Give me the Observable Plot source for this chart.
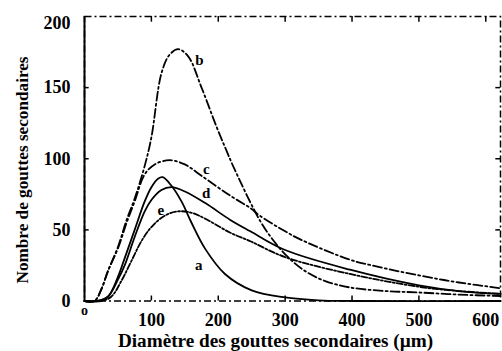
<!DOCTYPE html>
<html><head><meta charset="utf-8">
<script src="https://cdn.jsdelivr.net/npm/d3@7"></script>
<script src="https://cdn.jsdelivr.net/npm/@observablehq/plot@0.6"></script>
<style>
body{margin:0;background:#fff;}
svg, svg text{font-family:"Liberation Serif","DejaVu Serif",serif !important;}
</style></head><body><div id="chart"></div>
<script>
// Diamètre (µm) and counts for each curve
const xA = [0, 20, 35, 50, 60, 75, 90, 100, 110, 117, 130, 145, 160, 180, 210, 250, 300, 350, 400, 622];
const yA = [0, 0, 3, 17, 30, 50, 70, 80, 86, 87, 81, 70, 55, 37, 19, 7.5, 2.5, 0.5, 0, 0];
const xB = [0, 15, 25, 35, 50, 63, 75, 90, 100, 115, 127, 140, 155, 175, 197, 212, 224, 263, 285, 304, 330, 360, 397, 450, 500, 560, 622];
const yB = [0, 0, 8, 21, 38, 57, 72, 95, 115, 160, 173, 177, 172, 150, 123, 106, 93, 56, 41, 31, 21, 14, 9.5, 7, 6, 4.5, 3.5];
const xC = [0, 15, 25, 35, 50, 63, 75, 90, 105, 127, 150, 175, 218, 249, 262, 300, 324, 397, 430, 500, 560, 622];
const yC = [0, 0, 8, 21, 37, 55, 70, 89, 96, 99, 96, 88, 74, 65, 60, 49, 43, 29, 25, 18, 13, 9];
const xD = [0, 20, 35, 50, 60, 75, 90, 100, 115, 130, 150, 180, 218, 248, 299, 397, 500, 560, 622];
const yD = [0, 0, 3, 15, 25, 45, 63, 71, 78, 80, 77, 69, 57, 49, 36, 22, 11, 7, 5];
const xE = [0, 25, 40, 55, 70, 85, 100, 120, 140, 160, 180, 218, 248, 299, 397, 500, 560, 622];
const yE = [0, 0, 3, 14, 28, 42, 52, 60, 63, 62, 58, 48, 42, 31, 19, 10, 7, 5];

const curveNames = ["a", "b", "c", "d", "e"];
const labelX = [171, 172, 182, 182, 114];
const labelY = [25, 169, 93, 76, 64];

const xTicks = [100, 200, 300, 400, 500, 600];
const yTicks = [0, 50, 100, 150, 200];
const xOrigin = ["o"];
const xTitle = "Diamètre des gouttes secondaires (µm)";
const yTitle = "Nombre de gouttes secondaires";

const series = [[xA, yA], [xB, yB], [xC, yC], [xD, yD], [xE, yE]];
const rows = series.flatMap(([xs, ys], i) => xs.map((x, j) => ({name: curveNames[i], x, y: ys[j]})));
const dash = {a: null, b: "9,3,2,3", c: "9,3,2,3", d: null, e: "6,2,2,2"};
const labels = curveNames.map((n, i) => ({name: n, x: labelX[i], y: labelY[i]}));

const chart = Plot.plot({
  width: 502, height: 351,
  marginLeft: 84, marginRight: 2, marginTop: 16, marginBottom: 50.5,
  x: {domain: [0, 622]},
  y: {domain: [0, 200]},
  style: {background: "#fff", color: "#000"},
  marks: [
    Plot.frame({stroke: "#000", strokeWidth: 1.5, strokeDasharray: "7,3,2,3"}),
    Plot.ruleX([0], {stroke: "#000", strokeWidth: 2}),
    ...curveNames.map(n => Plot.line(rows.filter(d => d.name === n), {
      x: "x", y: "y", curve: "catmull-rom", stroke: "#000", strokeWidth: 1.8,
      strokeDasharray: dash[n]
    })),
    Plot.text(labels, {x: "x", y: "y", text: "name", fontSize: 15, fontWeight: "bold", fill: "#000"}),
    Plot.ruleX(xTicks.slice(0, 5), {y1: 0, y2: 3.5, stroke: "#000", strokeWidth: 1.5}),
    Plot.ruleX(xTicks, {y1: 200, y2: 196, stroke: "#000", strokeWidth: 1.5}),
    Plot.ruleY(yTicks.slice(1, 4), {x1: 0, x2: 7, stroke: "#000", strokeWidth: 1.5}),
    Plot.ruleY(yTicks.slice(1, 4), {x1: 622, x2: 615, stroke: "#000", strokeWidth: 1.5}),
    Plot.axisX(xTicks, {tickSize: 0, tickPadding: 12, fontSize: 18, fontWeight: "bold", label: null}),
    Plot.axisY(yTicks.slice(0, 4), {tickSize: 0, tickPadding: 14, fontSize: 18, fontWeight: "bold", label: null}),
    Plot.axisY(yTicks.slice(4), {tickSize: 0, tickPadding: 14, dy: 7, fontSize: 18, fontWeight: "bold", label: null}),
    Plot.text(xOrigin, {x: 0, y: 0, dy: 10, fontSize: 14, fontWeight: "bold", fill: "#000"}),
    Plot.text([xTitle], {x: 285.6, y: -27.7, fontSize: 19.2, fontWeight: "bold", fill: "#000"}),
    Plot.text([yTitle], {x: -92.7, y: 92.1, rotate: -90, fontSize: 17.2, fontWeight: "bold", fill: "#000"})
  ]
});
document.getElementById("chart").append(chart);
</script></body></html>
